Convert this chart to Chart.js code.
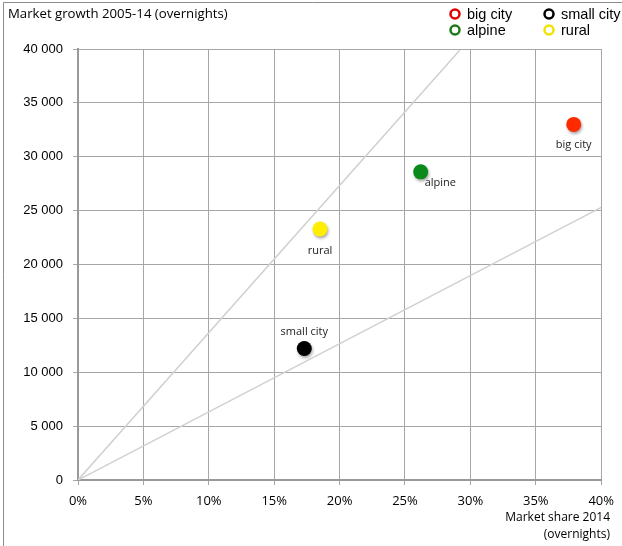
<!DOCTYPE html>
<html>
<head>
<meta charset="utf-8">
<script src="https://cdn.jsdelivr.net/npm/chart.js@4.4.1/dist/chart.umd.min.js"></script>
<style>
  html, body { margin: 0; padding: 0; background: #fff; }
  #wrap { position: relative; width: 622px; height: 546px; }
</style>
</head>
<body>
<div id="wrap"><canvas id="myChart" width="622" height="546"></canvas></div>
<script>
// Data
const categories = ["big city", "alpine", "rural", "small city"];
const marketShare = [37.9, 26.2, 18.5, 17.3];        // % of overnights 2014
const marketGrowth = [33000, 28600, 23300, 12200];   // growth 2005-14
const xTicks = [0, 5, 10, 15, 20, 25, 30, 35, 40];
const yTicks = [0, 5000, 10000, 15000, 20000, 25000, 30000, 35000, 40000];
const steepLineX = [0, 29.2];
const steepLineY = [0, 39900];
const flatLineX = [0, 40];
const flatLineY = [0, 25300];

// Styles
const pointColors = ["#ff2a00", "#0a8a1a", "#ffee00", "#000000"];
const legendColors = ["#e00000", "#1a7a1a", "#f2e200", "#000000"];
const labelOffsets = [[0, 20], [4, 11], [0, 22], [0, -17]];
const labelAlign = ["center", "left", "center", "center"];
const legendOrder = [0, 3, 1, 2]; // big city, small city / alpine, rural
const sans = "'Open Sans', sans-serif";
const arial = "'Liberation Sans', Arial, sans-serif";

const ctx = document.getElementById("myChart").getContext("2d");

const lineDataset = (xs, ys) => ({
  data: xs.map((x, i) => ({ x: x, y: ys[i] })),
  showLine: true,
  borderColor: "#d0d0d0",
  borderWidth: 1.5,
  pointRadius: 0,
  order: 2,
});

const pointDatasets = categories.map((name, i) => ({
  label: name,
  data: [{ x: marketShare[i], y: marketGrowth[i] }],
  backgroundColor: pointColors[i],
  borderColor: pointColors[i],
  pointRadius: 7.5,
  pointBorderWidth: 0,
  order: 1,
}));

const decorations = {
  id: "decorations",
  beforeDraw(chart) {
    const c = chart.ctx;
    c.save();
    c.strokeStyle = "#8c8c8c";
    c.lineWidth = 1;
    c.beginPath();
    c.moveTo(3.5, 546);
    c.lineTo(3.5, 2.5);
    c.lineTo(622, 2.5);
    c.stroke();
    c.restore();
  },
  beforeDatasetDraw(chart, args) {
    chart.ctx.save();
    if (args.index >= 2) {
      chart.ctx.shadowColor = "rgba(0,0,0,0.35)";
      chart.ctx.shadowBlur = 3;
      chart.ctx.shadowOffsetX = 1;
      chart.ctx.shadowOffsetY = 2;
    }
  },
  afterDatasetDraw(chart) {
    chart.ctx.restore();
  },
  afterDraw(chart) {
    const c = chart.ctx;
    const xs = chart.scales.x, ys = chart.scales.y;
    c.save();
    // title
    c.fillStyle = "#000";
    c.font = "13.2px " + sans;
    c.textAlign = "left";
    c.textBaseline = "middle";
    c.fillText("Market growth 2005-14 (overnights)", 8, 14);
    // point labels
    c.font = "11px " + sans;
    c.fillStyle = "#222";
    categories.forEach((name, i) => {
      const px = xs.getPixelForValue(marketShare[i]);
      const py = ys.getPixelForValue(marketGrowth[i]);
      c.textAlign = labelAlign[i];
      c.fillText(name, px + labelOffsets[i][0], py + labelOffsets[i][1]);
    });
    // x axis title
    c.font = "12px " + sans;
    c.fillStyle = "#000";
    c.textAlign = "right";
    c.fillText("Market share 2014", 610, 518);
    c.fillText("(overnights)", 610, 535);
    // legend
    c.font = "14.5px " + arial;
    c.textAlign = "left";
    legendOrder.forEach((idx, k) => {
      const col = k % 2, row = Math.floor(k / 2);
      const cx = col === 0 ? 455 : 549;
      const cy = row === 0 ? 14 : 30;
      c.beginPath();
      c.arc(cx, cy, 4.5, 0, Math.PI * 2);
      c.strokeStyle = legendColors[idx];
      c.lineWidth = 2.5;
      c.stroke();
      c.fillStyle = "#000";
      c.fillText(categories[idx], cx + 12, cy + 1);
    });
    c.restore();
  },
};

new Chart(ctx, {
  type: "scatter",
  data: {
    datasets: [lineDataset(steepLineX, steepLineY), lineDataset(flatLineX, flatLineY), ...pointDatasets],
  },
  options: {
    responsive: false,
    animation: false,
    layout: { padding: { left: 0, right: 20, top: 49, bottom: 0 } },
    plugins: {
      legend: { display: false },
      tooltip: { enabled: false },
    },
    scales: {
      x: {
        type: "linear",
        min: xTicks[0],
        max: xTicks[xTicks.length - 1],
        afterBuildTicks: (s) => { s.ticks = xTicks.map((v) => ({ value: v })); },
        afterFit: (s) => { s.height = 66; },
        ticks: {
          callback: (v) => v + "%",
          color: "#000",
          padding: 8,
          font: { family: sans, size: 13 },
        },
        grid: { color: "#a6a6a6", lineWidth: 1, tickLength: 5 },
        border: { color: "#999999", width: 2 },
      },
      y: {
        type: "linear",
        min: yTicks[0],
        max: yTicks[yTicks.length - 1],
        afterBuildTicks: (s) => { s.ticks = yTicks.map((v) => ({ value: v })); },
        afterFit: (s) => { s.width = 78; },
        ticks: {
          callback: (v) => String(v).replace(/\B(?=(\d{3})+(?!\d))/g, " "),
          color: "#000",
          padding: 10,
          font: { family: arial, size: 13 },
        },
        grid: { color: "#a6a6a6", lineWidth: 1, tickLength: 5 },
        border: { color: "#999999", width: 2 },
      },
    },
  },
  plugins: [decorations],
});
</script>
</body>
</html>
